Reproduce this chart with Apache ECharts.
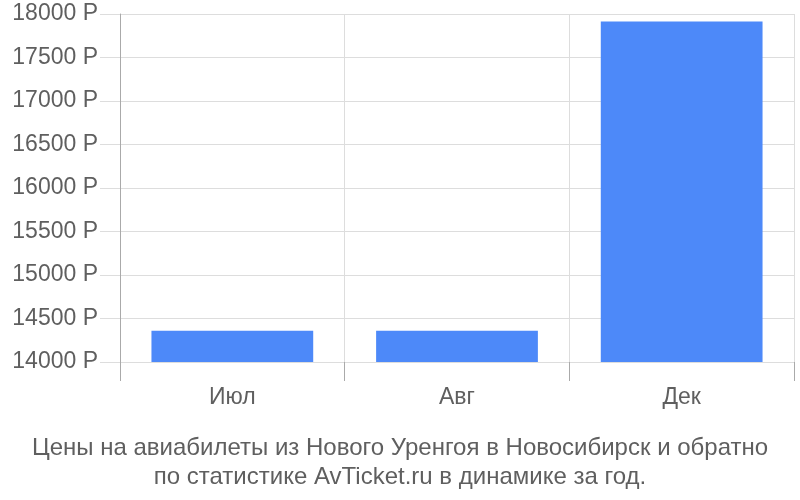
<!DOCTYPE html>
<html>
<head>
<meta charset="utf-8">
<script src="https://cdn.jsdelivr.net/npm/echarts@6/dist/echarts.min.js"></script>
<style>
  html, body { margin: 0; padding: 0; background: #fff; }
  #chart { width: 800px; height: 500px; }
</style>
</head>
<body>
<div id="chart"></div>
<script>
// месяцы и цены (руб.)
const months = ['Июл', 'Авг', 'Дек'];
const prices = [14360, 14360, 17915];
const yMin = 14000;
const yMax = 18000;
const yStep = 500;
const titleLines = [
  'Цены на авиабилеты из Нового Уренгоя в Новосибирск и обратно',
  'по статистике AvTicket.ru в динамике за год.'
];

const chart = echarts.init(document.getElementById('chart'));
const font = '"Liberation Sans", Arial, sans-serif';

chart.setOption({
  animation: false,
  title: {
    text: titleLines.join('\n'),
    left: 'center',
    top: 429,
    textStyle: { fontFamily: font, fontSize: 24, fontWeight: 'normal', color: '#5f5f5f', lineHeight: 29 }
  },
  grid: { left: 120, right: 6, top: 14, bottom: 138 },
  xAxis: {
    type: 'category',
    data: months,
    axisLine: { show: false },
    axisTick: { show: true, length: 19, lineStyle: { color: '#aaa' } },
    splitLine: { show: true, lineStyle: { color: '#ddd' } },
    axisLabel: { margin: 24, fontFamily: font, fontSize: 23, color: '#5f5f5f' }
  },
  yAxis: {
    type: 'value',
    min: yMin,
    max: yMax,
    interval: yStep,
    axisLine: { show: true, lineStyle: { color: '#aaa' } },
    axisTick: { show: true, length: 20, lineStyle: { color: '#ddd' } },
    splitLine: { show: true, lineStyle: { color: '#ddd' } },
    axisLabel: {
      margin: 22, fontFamily: font, fontSize: 23, color: '#5f5f5f',
      padding: [3, 0, 0, 0],
      formatter: v => v + ' Р'
    }
  },
  series: [{
    type: 'bar',
    data: prices,
    barWidth: '72%',
    itemStyle: { color: '#4d89f9' }
  }]
});
</script>
</body>
</html>
